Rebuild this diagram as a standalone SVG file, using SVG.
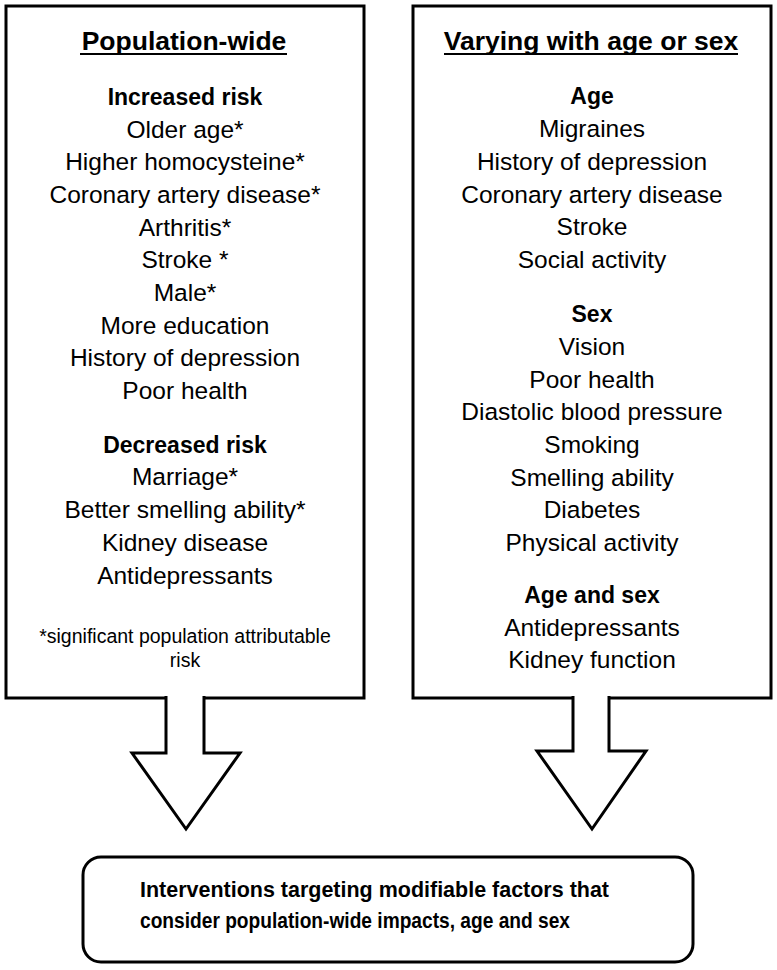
<svg xmlns="http://www.w3.org/2000/svg" width="777" height="970" viewBox="0 0 777 970">
<style>
text{font-family:"Liberation Sans",Arial,sans-serif;fill:#000;text-anchor:middle}
.i{font-size:24.5px}
.h{font-size:23px;font-weight:bold}
.ti{font-size:26.5px;font-weight:bold}
.fn{font-size:19.5px}
.b{font-size:22.5px;font-weight:bold;text-anchor:start}
.box{fill:#fff;stroke:#000;stroke-width:3}
.arr{fill:#fff;stroke:#000;stroke-width:3;stroke-linejoin:miter}
.ul{stroke:#000;stroke-width:2}
</style>
<rect width="777" height="970" fill="#fff"/>
<g id="population-wide">
<rect class="box" x="6" y="6" width="358" height="692"/>
<text class="ti" x="184" y="50">Population-wide</text>
<line class="ul" x1="80" y1="54" x2="287" y2="54"/>
<text class="h" x="185" y="105">Increased risk</text>
<text class="i" x="185" y="137.5">Older age*</text>
<text class="i" x="185" y="170">Higher homocysteine*</text>
<text class="i" x="185" y="203">Coronary artery disease*</text>
<text class="i" x="185" y="235.5">Arthritis*</text>
<text class="i" x="185" y="268">Stroke *</text>
<text class="i" x="185" y="301">Male*</text>
<text class="i" x="185" y="333.5">More education</text>
<text class="i" x="185" y="366">History of depression</text>
<text class="i" x="185" y="398.5">Poor health</text>
<text class="h" x="185" y="453">Decreased risk</text>
<text class="i" x="185" y="485">Marriage*</text>
<text class="i" x="185" y="518">Better smelling ability*</text>
<text class="i" x="185" y="551">Kidney disease</text>
<text class="i" x="185" y="584">Antidepressants</text>
<text class="fn" x="185" y="643">*significant population attributable</text>
<text class="fn" x="185" y="667">risk</text>
</g>
<g id="varying">
<rect class="box" x="413" y="6" width="358" height="692"/>
<text class="ti" x="591" y="50">Varying with age or sex</text>
<line class="ul" x1="444" y1="54" x2="738" y2="54"/>
<text class="h" x="592" y="104">Age</text>
<text class="i" x="592" y="137">Migraines</text>
<text class="i" x="592" y="170">History of depression</text>
<text class="i" x="592" y="203">Coronary artery disease</text>
<text class="i" x="592" y="235">Stroke</text>
<text class="i" x="592" y="267.5">Social activity</text>
<text class="h" x="592" y="322">Sex</text>
<text class="i" x="592" y="355">Vision</text>
<text class="i" x="592" y="387.5">Poor health</text>
<text class="i" x="592" y="420">Diastolic blood pressure</text>
<text class="i" x="592" y="453">Smoking</text>
<text class="i" x="592" y="485.5">Smelling ability</text>
<text class="i" x="592" y="518">Diabetes</text>
<text class="i" x="592" y="550.5">Physical activity</text>
<text class="h" x="592" y="603">Age and sex</text>
<text class="i" x="592" y="636">Antidepressants</text>
<text class="i" x="592" y="668">Kidney function</text>
</g>
<g id="interventions">
<rect class="box" x="83" y="857" width="610" height="105" rx="18" ry="18"/>
<text class="b" x="140" y="897" textLength="469" lengthAdjust="spacingAndGlyphs">Interventions targeting modifiable factors that</text>
<text class="b" x="140" y="928" textLength="430" lengthAdjust="spacingAndGlyphs">consider population-wide impacts, age and sex</text>
</g>
<g id="connectors">
<path class="arr" d="M166,696 L166,753 L132,753 L186,829 L240,753 L204,753 L204,696"/>
<path class="arr" d="M573,696 L573,751 L537,751 L592,829 L646,751 L609,751 L609,696"/>
</g>
</svg>
